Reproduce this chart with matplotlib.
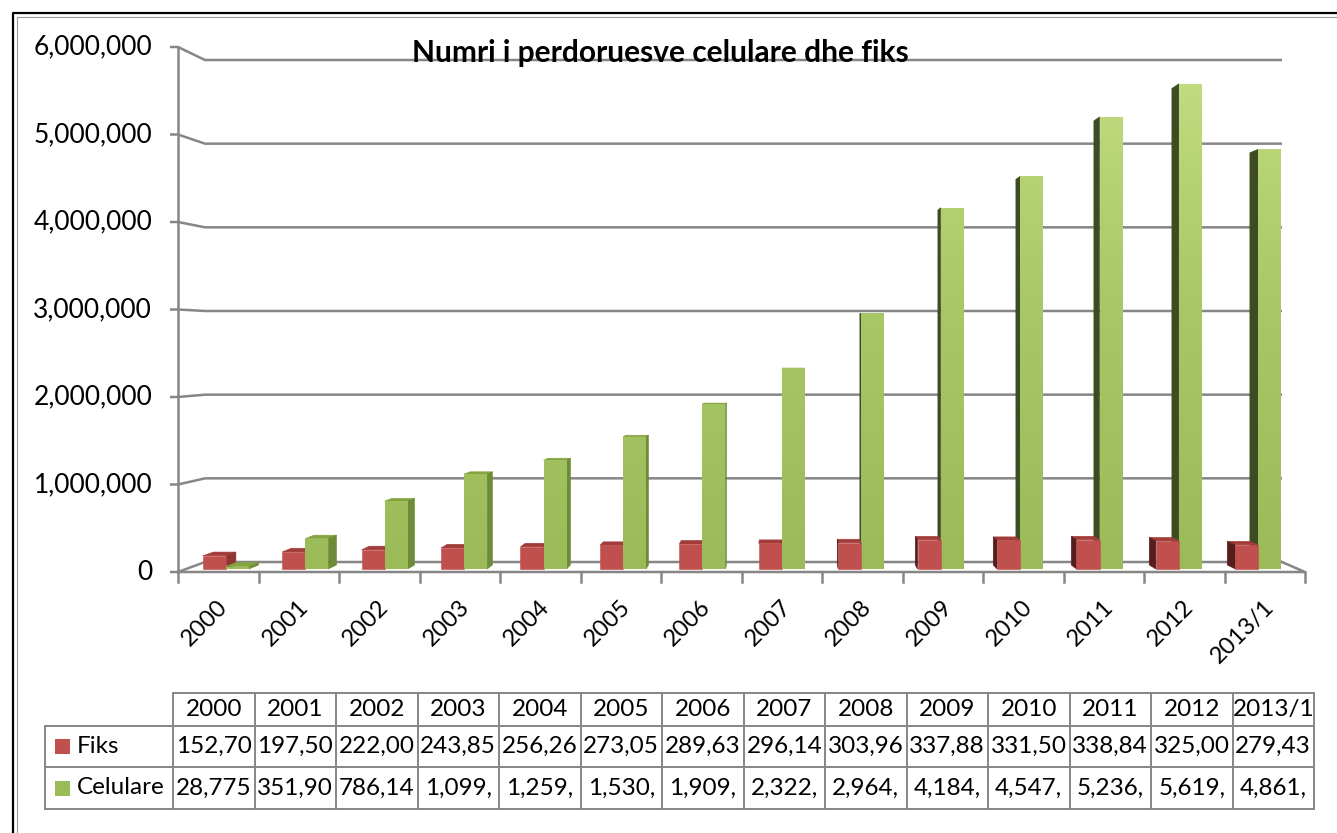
import matplotlib
matplotlib.use("Agg")
import matplotlib.pyplot as plt
import numpy as np
from matplotlib.patches import Polygon, Rectangle
from matplotlib.path import Path
from matplotlib.colors import LinearSegmentedColormap

years = ["2000", "2001", "2002", "2003", "2004", "2005", "2006",
         "2007", "2008", "2009", "2010", "2011", "2012", "2013/1"]
fiks = [152700, 197500, 222000, 243850, 256260, 273050, 289630,
        296140, 303960, 337880, 331500, 338840, 325000, 279430]
celulare = [28775, 351900, 786140, 1099000, 1259000, 1530000, 1909000,
            2322000, 2964000, 4184000, 4547000, 5236000, 5619000, 4861000]
y_ticks = [0, 1000000, 2000000, 3000000, 4000000, 5000000, 6000000]
series_names = ["Fiks", "Celulare"]
title = "Numri i perdoruesve celulare dhe fiks"

plt.rcParams["font.family"] = ["Lato", "DejaVu Sans"]

W, H = 1337, 833
GRID = "#868686"
RED = {"front": "#C0504D", "top": "#A13C39", "right": "#8E3431", "left": "#561D1D"}
GREEN = {"front": "#9BBB59", "top": "#86A440", "right": "#6E8B37", "left": "#3E4C23"}

fig = plt.figure(figsize=(W / 100, H / 100), dpi=100)

# full-figure axes in pixel units for frame and data table
bg = fig.add_axes([0, 0, 1, 1])
bg.set_xlim(0, W)
bg.set_ylim(H, 0)
bg.axis("off")

ax = fig.add_axes([178 / W, (H - 572) / H, (1305 - 178) / W, (572 - 47) / H])

# simple perspective: d = 0 front of floor, d = 1 back wall
DX, KX = 0.3354, 0.0444
DV, KV = 114286, 0.0438


def proj(x, v, d):
    return DX * d + x * (1 - KX * d), DV * d + v * (1 - KV * d)


# walls / gridlines
n = len(years)
for v in y_ticks:
    bx0, bv = proj(0, v, 1)
    bx1, _ = proj(n, v, 1)
    ax.plot([-0.1, 0, bx0, bx1], [v, v, bv, bv], color=GRID, lw=1.8,
            clip_on=False, zorder=1, solid_capstyle="butt")
    ax.text(-0.32, v, f"{v:,}", ha="right", va="center", fontsize=19)
ax.plot([0, 0], [0, y_ticks[-1]], color=GRID, lw=1.8, clip_on=False, zorder=1)
rx, rv = proj(n, 0, 1)
ax.plot([0, n, rx], [0, 0, rv], color=GRID, lw=1.8, clip_on=False, zorder=1)
for i in range(n + 1):
    ax.plot([i, i], [0, -110000], color=GRID, lw=1.8, clip_on=False, zorder=1)


def box_faces(x0, x1, v, d0=0.3, d1=0.7):
    f = [proj(x0, 0, d0), proj(x1, 0, d0), proj(x1, v, d0), proj(x0, v, d0)]
    faces = {"front": f}
    if proj(0, v, d1)[1] > proj(0, v, d0)[1]:
        faces["top"] = [proj(x0, v, d0), proj(x1, v, d0), proj(x1, v, d1), proj(x0, v, d1)]
    if proj(x1, 0, d1)[0] > proj(x1, 0, d0)[0]:
        faces["right"] = [proj(x1, 0, d0), proj(x1, 0, d1), proj(x1, v, d1), proj(x1, v, d0)]
    if proj(x0, 0, d1)[0] < proj(x0, 0, d0)[0]:
        faces["left"] = [proj(x0, 0, d0), proj(x0, 0, d1), proj(x0, v, d1), proj(x0, v, d0)]
    return faces


bw = 0.29
green_fronts = []
for i in range(n):
    c = i + 0.5
    red_faces = box_faces(c - bw, c, fiks[i])
    green_faces = box_faces(c, c + bw, celulare[i])
    left_half = proj(c, 0, 0.7)[0] > proj(c, 0, 0.3)[0]
    zr = 2 if left_half else 4
    for name, poly in red_faces.items():
        z = zr + (0.1 if name == "front" else 0)
        ax.add_patch(Polygon(poly, closed=True, fc=RED[name], ec=RED[name],
                             lw=0.4, zorder=z, clip_on=False))
    for name, poly in green_faces.items():
        if name == "front":
            green_fronts.append(poly)
            continue
        ax.add_patch(Polygon(poly, closed=True, fc=GREEN[name], ec=GREEN[name],
                             lw=0.4, zorder=3, clip_on=False))
    ax.annotate(years[i], xy=(c, 0), xytext=(6, -32), textcoords="offset pixels",
                rotation=45, ha="right", va="center", rotation_mode="anchor",
                fontsize=17)

# green fronts with vertical light gradient
gcmap = LinearSegmentedColormap.from_list("g", ["#9BBB59", "#A8C766", "#C4DF82"])
im = ax.imshow(np.linspace(0, 1, 256).reshape(-1, 1), cmap=gcmap, aspect="auto",
               origin="lower", extent=(0, n, 0, y_ticks[-1]), zorder=3.1)
gpath = Path.make_compound_path(*[Path(p + [p[0]], closed=True) for p in green_fronts])
im.set_clip_path(gpath, ax.transData)

ax.set_xlim(0, n)
ax.set_ylim(0, y_ticks[-1])
ax.axis("off")

fig.text(660 / W, 1 - 53 / H, title, ha="center", va="center",
         fontsize=21.5, fontweight="bold")

# data table
col0, colw = 173, 81.5
r0, r1, r2, r3 = 693, 726, 767, 809
tcol = GRID
col_right = col0 + colw * n
bg.plot([col0, col_right], [r0, r0], color=tcol, lw=1.4)
for yy in (r1, r2, r3):
    bg.plot([45, col_right], [yy, yy], color=tcol, lw=1.4)
bg.plot([45, 45], [r1, r3], color=tcol, lw=1.4)
for k in range(n + 1):
    xx = col0 + k * colw
    bg.plot([xx, xx], [r0, r3], color=tcol, lw=1.4)
for k in range(n):
    cx = col0 + (k + 0.5) * colw
    bg.text(cx, (r0 + r1) / 2, years[k], ha="center", va="center", fontsize=17.5)
    bg.text(cx, (r1 + r2) / 2, f"{fiks[k]:,}"[:6], ha="center", va="center", fontsize=17.5)
    bg.text(cx, (r2 + r3) / 2, f"{celulare[k]:,}"[:6], ha="center", va="center", fontsize=17.5)
for (ya, yb), name, col in zip([(r1, r2), (r2, r3)], series_names,
                               [RED["front"], GREEN["front"]]):
    ym = (ya + yb) / 2
    bg.add_patch(Rectangle((55, ym - 7.5), 15, 15, fc=col, ec="none"))
    bg.text(77, ym, name, ha="left", va="center", fontsize=17.5)

# outer frame
bg.plot([12.5, 12.5, W + 5], [H + 5, 12.5, 12.5], color="black", lw=1.6)
bg.plot([16.5, 16.5, W + 5], [H + 5, 16.5, 16.5], color="#9a9a9a", lw=0.8)

fig.savefig("out.png", dpi=100, facecolor="white")
